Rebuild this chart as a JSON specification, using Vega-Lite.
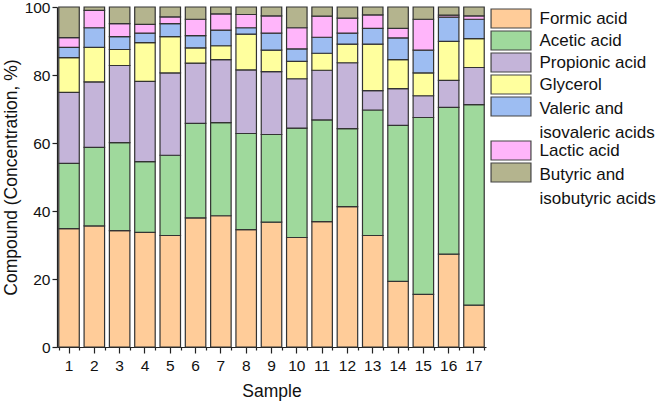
{
  "$schema": "https://vega.github.io/schema/vega-lite/v6.json",
  "autosize": {"type": "none"},
  "width": 429,
  "height": 340,
  "padding": {"left": 57, "top": 7, "right": 175, "bottom": 55},
  "background": "white",
  "config": {
    "view": {"stroke": null},
    "font": "Liberation Sans",
    "axis": {"labelFont": "Liberation Sans", "titleFont": "Liberation Sans", "labelFontSize": 15.5, "titleFontSize": 17.5, "titleFontWeight": "normal", "labelColor": "#111", "titleColor": "#111", "domainColor": "#222", "tickColor": "#222", "grid": false}
  },
  "data": {"values": [
    {"s":1,"c":"Formic acid","v":34.8},{"s":1,"c":"Acetic acid","v":19.2},{"s":1,"c":"Propionic acid","v":20.9},{"s":1,"c":"Glycerol","v":10.2},{"s":1,"c":"Valeric and isovaleric acids","v":3.0},{"s":1,"c":"Lactic acid","v":2.9},{"s":1,"c":"Butyric and isobutyric acids","v":9.0},
    {"s":2,"c":"Formic acid","v":35.6},{"s":2,"c":"Acetic acid","v":23.1},{"s":2,"c":"Propionic acid","v":19.3},{"s":2,"c":"Glycerol","v":10.1},{"s":2,"c":"Valeric and isovaleric acids","v":5.8},{"s":2,"c":"Lactic acid","v":5.1},{"s":2,"c":"Butyric and isobutyric acids","v":1.0},
    {"s":3,"c":"Formic acid","v":34.2},{"s":3,"c":"Acetic acid","v":25.9},{"s":3,"c":"Propionic acid","v":22.7},{"s":3,"c":"Glycerol","v":4.7},{"s":3,"c":"Valeric and isovaleric acids","v":3.8},{"s":3,"c":"Lactic acid","v":3.8},{"s":3,"c":"Butyric and isobutyric acids","v":4.9},
    {"s":4,"c":"Formic acid","v":33.7},{"s":4,"c":"Acetic acid","v":20.8},{"s":4,"c":"Propionic acid","v":23.6},{"s":4,"c":"Glycerol","v":11.4},{"s":4,"c":"Valeric and isovaleric acids","v":2.8},{"s":4,"c":"Lactic acid","v":2.6},{"s":4,"c":"Butyric and isobutyric acids","v":5.1},
    {"s":5,"c":"Formic acid","v":32.8},{"s":5,"c":"Acetic acid","v":23.6},{"s":5,"c":"Propionic acid","v":24.2},{"s":5,"c":"Glycerol","v":10.7},{"s":5,"c":"Valeric and isovaleric acids","v":3.8},{"s":5,"c":"Lactic acid","v":2.0},{"s":5,"c":"Butyric and isobutyric acids","v":2.9},
    {"s":6,"c":"Formic acid","v":38.0},{"s":6,"c":"Acetic acid","v":27.8},{"s":6,"c":"Propionic acid","v":17.7},{"s":6,"c":"Glycerol","v":4.5},{"s":6,"c":"Valeric and isovaleric acids","v":3.6},{"s":6,"c":"Lactic acid","v":4.8},{"s":6,"c":"Butyric and isobutyric acids","v":3.6},
    {"s":7,"c":"Formic acid","v":38.6},{"s":7,"c":"Acetic acid","v":27.4},{"s":7,"c":"Propionic acid","v":18.5},{"s":7,"c":"Glycerol","v":4.1},{"s":7,"c":"Valeric and isovaleric acids","v":4.6},{"s":7,"c":"Lactic acid","v":4.8},{"s":7,"c":"Butyric and isobutyric acids","v":2.0},
    {"s":8,"c":"Formic acid","v":34.5},{"s":8,"c":"Acetic acid","v":28.3},{"s":8,"c":"Propionic acid","v":18.7},{"s":8,"c":"Glycerol","v":10.5},{"s":8,"c":"Valeric and isovaleric acids","v":1.9},{"s":8,"c":"Lactic acid","v":3.9},{"s":8,"c":"Butyric and isobutyric acids","v":2.2},
    {"s":9,"c":"Formic acid","v":36.7},{"s":9,"c":"Acetic acid","v":25.8},{"s":9,"c":"Propionic acid","v":18.5},{"s":9,"c":"Glycerol","v":6.3},{"s":9,"c":"Valeric and isovaleric acids","v":5.0},{"s":9,"c":"Lactic acid","v":5.1},{"s":9,"c":"Butyric and isobutyric acids","v":2.6},
    {"s":10,"c":"Formic acid","v":32.2},{"s":10,"c":"Acetic acid","v":32.2},{"s":10,"c":"Propionic acid","v":14.5},{"s":10,"c":"Glycerol","v":5.1},{"s":10,"c":"Valeric and isovaleric acids","v":3.7},{"s":10,"c":"Lactic acid","v":6.2},{"s":10,"c":"Butyric and isobutyric acids","v":6.1},
    {"s":11,"c":"Formic acid","v":36.9},{"s":11,"c":"Acetic acid","v":29.9},{"s":11,"c":"Propionic acid","v":14.6},{"s":11,"c":"Glycerol","v":5.0},{"s":11,"c":"Valeric and isovaleric acids","v":4.7},{"s":11,"c":"Lactic acid","v":6.2},{"s":11,"c":"Butyric and isobutyric acids","v":2.7},
    {"s":12,"c":"Formic acid","v":41.3},{"s":12,"c":"Acetic acid","v":22.9},{"s":12,"c":"Propionic acid","v":19.4},{"s":12,"c":"Glycerol","v":5.5},{"s":12,"c":"Valeric and isovaleric acids","v":3.2},{"s":12,"c":"Lactic acid","v":4.4},{"s":12,"c":"Butyric and isobutyric acids","v":3.3},
    {"s":13,"c":"Formic acid","v":32.8},{"s":13,"c":"Acetic acid","v":36.9},{"s":13,"c":"Propionic acid","v":5.7},{"s":13,"c":"Glycerol","v":13.7},{"s":13,"c":"Valeric and isovaleric acids","v":4.6},{"s":13,"c":"Lactic acid","v":4.0},{"s":13,"c":"Butyric and isobutyric acids","v":2.3},
    {"s":14,"c":"Formic acid","v":19.3},{"s":14,"c":"Acetic acid","v":45.9},{"s":14,"c":"Propionic acid","v":10.8},{"s":14,"c":"Glycerol","v":8.5},{"s":14,"c":"Valeric and isovaleric acids","v":6.4},{"s":14,"c":"Lactic acid","v":2.8},{"s":14,"c":"Butyric and isobutyric acids","v":6.3},
    {"s":15,"c":"Formic acid","v":15.5},{"s":15,"c":"Acetic acid","v":52.0},{"s":15,"c":"Propionic acid","v":6.4},{"s":15,"c":"Glycerol","v":6.7},{"s":15,"c":"Valeric and isovaleric acids","v":6.7},{"s":15,"c":"Lactic acid","v":9.1},{"s":15,"c":"Butyric and isobutyric acids","v":3.6},
    {"s":16,"c":"Formic acid","v":27.3},{"s":16,"c":"Acetic acid","v":43.2},{"s":16,"c":"Propionic acid","v":7.9},{"s":16,"c":"Glycerol","v":11.5},{"s":16,"c":"Valeric and isovaleric acids","v":7.1},{"s":16,"c":"Lactic acid","v":0.6},{"s":16,"c":"Butyric and isobutyric acids","v":2.4},
    {"s":17,"c":"Formic acid","v":12.3},{"s":17,"c":"Acetic acid","v":59.0},{"s":17,"c":"Propionic acid","v":10.9},{"s":17,"c":"Glycerol","v":8.5},{"s":17,"c":"Valeric and isovaleric acids","v":5.7},{"s":17,"c":"Lactic acid","v":1.0},{"s":17,"c":"Butyric and isobutyric acids","v":2.6}
  ]},
  "transform": [
    {"calculate": "indexof(['Formic acid','Acetic acid','Propionic acid','Glycerol','Valeric and isovaleric acids','Lactic acid','Butyric and isobutyric acids'], datum.c)", "as": "ord"}
  ],
  "layer": [
    {
      "mark": {"type": "bar", "stroke": "#333", "strokeWidth": 1.2},
      "encoding": {
        "x": {"field": "s", "type": "ordinal", "title": "Sample",
              "scale": {"paddingInner": 0.19, "paddingOuter": 0.07},
              "axis": {"labelAngle": 0, "tickSize": 6, "labelPadding": 5, "titlePadding": 9, "domainWidth": 1.2, "tickWidth": 1.2}},
        "y": {"field": "v", "type": "quantitative", "stack": "zero", "title": "Compound (Concentration, %)",
              "scale": {"domain": [0, 100], "nice": false},
              "axis": {"values": [0,10,20,30,40,50,60,70,80,90,100],
                       "labelExpr": "datum.value % 20 == 0 ? datum.label : ''",
                       "tickSize": {"condition": {"test": "datum.value % 20 == 0", "value": 5}, "value": 3},
                       "labelPadding": 2, "titlePadding": 4, "domainWidth": 1.2, "tickWidth": 1.2}},
        "color": {"field": "c", "type": "nominal", "title": null,
                  "scale": {"domain": ["Formic acid","Acetic acid","Propionic acid","Glycerol","Valeric and isovaleric acids","Lactic acid","Butyric and isobutyric acids"],
                            "range": ["#FFCC99","#9FD99C","#C4B4D9","#FFFF9E","#9DBDF2","#FFB5FA","#B4B48E"]},
                  "legend": {"orient": "right", "offset": 3, "padding": 1, "gridAlign": "none",
                             "symbolType": "M-2.1,-1H2.1V1H-2.1Z", "symbolSize": 361, "symbolOffset": 10.5,
                             "symbolStrokeColor": "#444", "symbolStrokeWidth": 1.2,
                             "labelFont": "Liberation Sans", "labelFontSize": 17, "labelColor": "#111",
                             "labelOffset": 18, "rowPadding": -3, "labelLimit": 250,
                             "labelExpr": "datum.label == 'Valeric and isovaleric acids' ? ['Valeric and', 'isovaleric acids'] : datum.label == 'Butyric and isobutyric acids' ? ['Butyric and', 'isobutyric acids'] : datum.label",
                             "encode": {"labels": {"update": {"lineHeight": {"signal": "indexof(datum.label, ' and ') > 0 ? 24 : 17"}, "dy": {"signal": "indexof(datum.label, ' and ') > 0 ? 2 : 0"}}}}}},
        "order": {"field": "ord", "type": "quantitative"}
      }
    },
    {
      "mark": {"type": "bar", "opacity": 0},
      "encoding": {
        "x": {"field": "s", "type": "ordinal",
              "axis": {"orient": "bottom", "tickBand": "extent", "labels": false, "domain": false, "tickSize": 3, "title": null, "tickWidth": 1.2}},
        "y": {"field": "v", "type": "quantitative", "stack": "zero"},
        "order": {"field": "ord", "type": "quantitative"}
      }
    }
  ],
  "resolve": {"axis": {"x": "independent"}}
}
